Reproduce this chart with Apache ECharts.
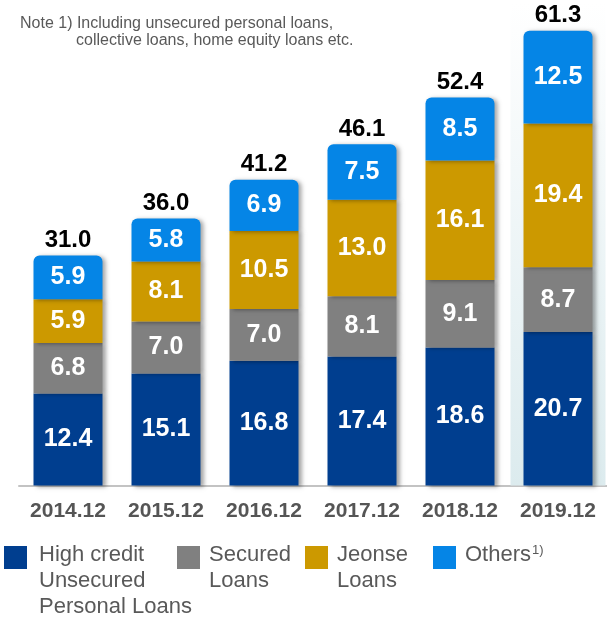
<!DOCTYPE html>
<html>
<head>
<meta charset="utf-8">
<title>Loans</title>
<script src="https://cdn.jsdelivr.net/npm/echarts@6/dist/echarts.min.js"></script>
<style>
  html, body { margin: 0; padding: 0; background: #fff; }
  #chart { width: 607px; height: 617px; }
</style>
</head>
<body>
<div id="chart"></div>
<script>
var categories = ['2014.12', '2015.12', '2016.12', '2017.12', '2018.12', '2019.12'];
var highCredit = [12.4, 15.1, 16.8, 17.4, 18.6, 20.7];
var secured = [6.8, 7.0, 7.0, 8.1, 9.1, 8.7];
var jeonse = [5.9, 8.1, 10.5, 13.0, 16.1, 19.4];
var others = [5.9, 5.8, 6.9, 7.5, 8.5, 12.5];
var totals = [31.0, 36.0, 41.2, 46.1, 52.4, 61.3];
var highlight = [null, null, null, null, null, 65];

var chartDom = document.getElementById('chart');
var myChart = echarts.init(chartDom);

var font = 'Arial, "Liberation Sans", sans-serif';
var shadow = {
  shadowColor: 'rgba(0,0,0,0.35)',
  shadowBlur: 4,
  shadowOffsetX: 3,
  shadowOffsetY: 1
};

function segLabel() {
  return {
    show: true,
    position: 'inside',
    color: '#fff',
    fontSize: 25,
    fontWeight: 'bold',
    fontFamily: font,
    formatter: function (p) { return p.value.toFixed(1); }
  };
}

// text is centred on the icon, so top padding pushes it down; legend top is the box top
function legendBox(name, left, top, pad) {
  return {
    data: [name],
    left: left,
    top: top,
    padding: 0,
    icon: 'rect',
    itemWidth: 23,
    itemHeight: 23,
    selectedMode: false,
    formatter: function (n) {
      if (n === 'Others') return 'Others{sup|1)}';
      return n;
    },
    textStyle: {
      color: '#595959',
      fontSize: 22,
      lineHeight: 26,
      fontFamily: font,
      padding: pad,
      rich: {
        sup: { fontSize: 13, fontFamily: font, color: '#595959', padding: [0, 0, 10, 1] }
      }
    }
  };
}

var option = {
  animation: false,
  title: {
    left: 20,
    top: 15,
    padding: 0,
    text: '{b|Note 1) Including unsecured personal loans,}\n{a|}{b|collective loans, home equity loans etc.}',
    textStyle: {
      fontWeight: 'normal',
      rich: {
        a: { width: 56, fontSize: 16, fontWeight: 'normal', color: '#595959', fontFamily: font, lineHeight: 17 },
        b: { fontSize: 16, fontWeight: 'normal', color: '#595959', fontFamily: font, lineHeight: 17 }
      }
    }
  },
  legend: [
    legendBox('High credit\nUnsecured\nPersonal Loans', 4, 495, [47, 0, 0, 7]),
    legendBox('Secured\nLoans', 177, 521, [21, 0, 0, 4]),
    legendBox('Jeonse\nLoans', 305, 521, [21, 0, 0, 4]),
    legendBox('Others', 433, 542, [0, 0, 5, 4])
  ],
  grid: { left: 19, width: 589, top: 3.2, bottom: 131.5 },
  xAxis: [
    {
      type: 'category',
      data: categories,
      axisLine: { lineStyle: { color: '#c3c3c3', width: 2 } },
      axisTick: { show: false },
      axisLabel: {
        interval: 0,
        color: '#555555',
        fontSize: 21,
        fontWeight: 'bold',
        fontFamily: font,
        margin: 15
      }
    },
    { type: 'category', data: categories, show: false }
  ],
  yAxis: { type: 'value', min: 0, max: 65, show: false },
  series: [
    {
      name: 'highlight',
      type: 'bar',
      xAxisIndex: 1,
      data: highlight,
      barWidth: 95,
      silent: true,
      z: 0,
      itemStyle: {
        color: new echarts.graphic.LinearGradient(0, 0, 0, 1, [
          { offset: 0, color: 'rgba(255,255,255,1)' },
          { offset: 1, color: '#dcebee' }
        ])
      }
    },
    {
      name: 'High credit\nUnsecured\nPersonal Loans',
      type: 'bar',
      stack: 'total',
      data: highCredit,
      barWidth: 69,
      itemStyle: Object.assign({ color: '#003e8f' }, shadow),
      label: segLabel()
    },
    {
      name: 'Secured\nLoans',
      type: 'bar',
      stack: 'total',
      data: secured,
      barWidth: 69,
      itemStyle: Object.assign({ color: '#808080' }, shadow),
      label: segLabel()
    },
    {
      name: 'Jeonse\nLoans',
      type: 'bar',
      stack: 'total',
      data: jeonse,
      barWidth: 69,
      itemStyle: Object.assign({ color: '#cc9900' }, shadow),
      label: segLabel()
    },
    {
      name: 'Others',
      type: 'bar',
      stack: 'total',
      data: others,
      barWidth: 69,
      itemStyle: Object.assign({ color: '#0585e6', borderRadius: [6, 6, 0, 0] }, shadow),
      label: segLabel()
    },
    {
      name: 'total',
      type: 'bar',
      stack: 'total',
      data: totals.map(function () { return 0; }),
      barWidth: 69,
      silent: true,
      itemStyle: { color: 'transparent' },
      label: {
        show: true,
        position: 'top',
        distance: 3,
        color: '#000',
        fontSize: 24,
        fontWeight: 'bold',
        fontFamily: font,
        formatter: function (p) { return totals[p.dataIndex].toFixed(1); }
      }
    }
  ]
};

option && myChart.setOption(option);
</script>
</body>
</html>
